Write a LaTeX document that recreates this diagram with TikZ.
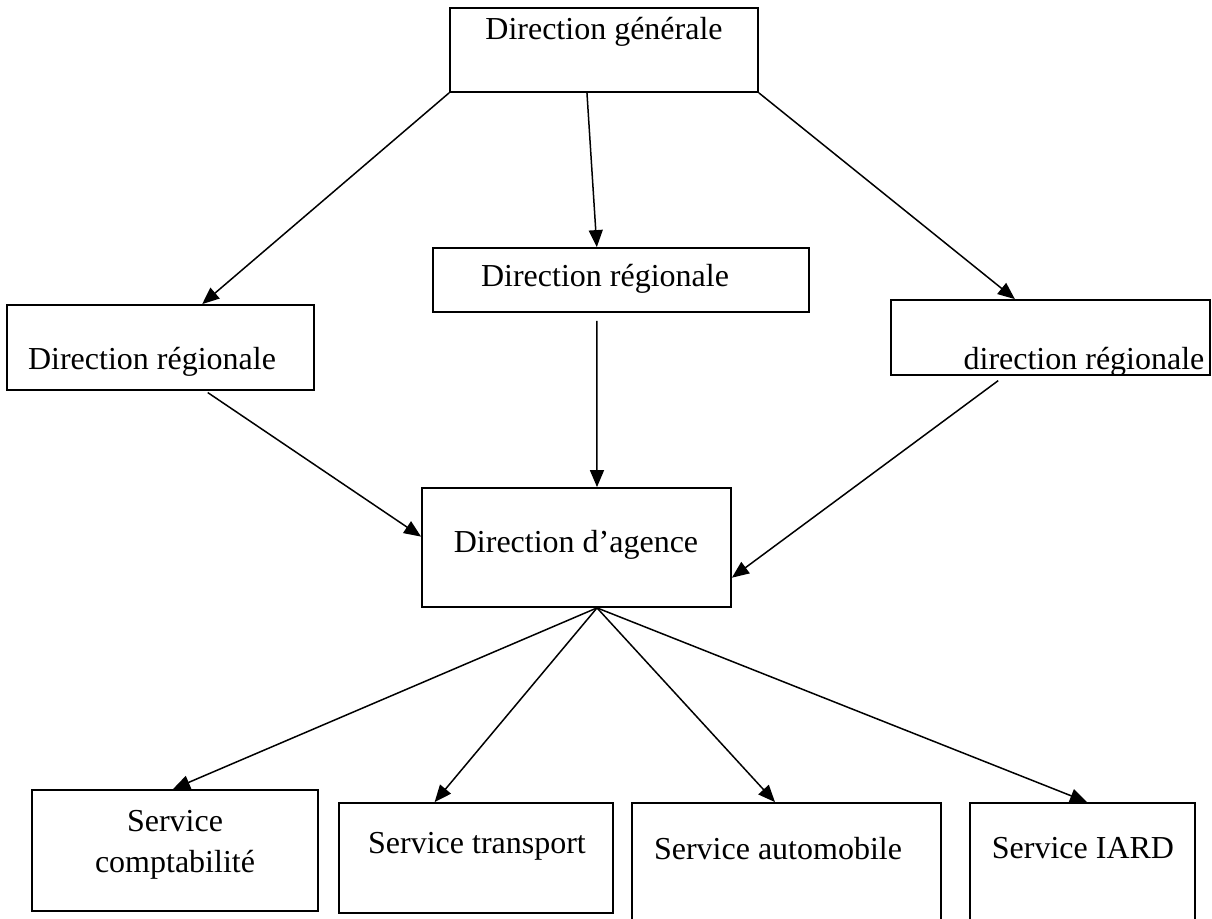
\documentclass[tikz,border=0pt]{standalone}
\usepackage{fontspec}
\setmainfont{Liberation Serif}
\usetikzlibrary{arrows.meta,fit,calc}
\begin{document}
\begin{tikzpicture}[x=0.5pt,y=-0.5pt]
	\tikzstyle{every node}+=[inner sep=0pt]
	\tikzstyle{box}=[draw, line width=0.9pt]
	\tikzstyle{lbl}=[anchor=base, align=center, font=\fontsize{16}{20.5}\selectfont]
	\tikzstyle{arr}=[-{Triangle[length=8.5pt,width=7pt]}, line width=0.75pt]
	\useasboundingbox (0,0) rectangle (1212,919);
	\node [box, fit={(450,8) (758,92)}] (dg) {};
	\node [lbl] (dgtxt) at (604,40) {Direction générale};
	\node [box, fit={(7,305) (314,390)}] (regl) {};
	\node [lbl] (regltxt) at (152,370) {Direction régionale};
	\node [box, fit={(433,248) (809,312)}] (regm) {};
	\node [lbl] (regmtxt) at (605,287) {Direction régionale};
	\node [box, fit={(891,300) (1210,375)}] (regr) {};
	\node [lbl] (regrtxt) at (1084,370) {direction régionale};
	\node [box, fit={(422,488) (731,607)}] (agence) {};
	\node [lbl] (agencetxt) at (576,553) {Direction d’agence};
	\node [box, fit={(32,790) (318,911)}] (compta) {};
	\node [lbl] (comptatxt) at (175,872) {Service\\comptabilité};
	\node [box, fit={(339,803) (613,913)}] (transp) {};
	\node [lbl] (transptxt) at (477,854) {Service transport};
	\node [box, fit={(632,803) (941,930)}] (auto) {};
	\node [lbl] (autotxt) at (778,860) {Service automobile};
	\node [box, fit={(970,803) (1195,930)}] (iard) {};
	\node [lbl] (iardtxt) at (1083,859) {Service IARD};
	\coordinate (hub) at ($(agence.south west)!0.566!(agence.south east)$);
	\draw [arr] (dg.south west) -- ($(regl.north west)!0.635!(regl.north east)$);
	\draw [arr] ($(dg.south west)!0.445!(dg.south east)$) -- ($(regm.north west)!0.436!(regm.north east)$);
	\draw [arr] (dg.south east) -- ($(regr.north west)!0.389!(regr.north east)$);
	\draw [arr, shorten <=4pt] ($(regm.south west)!0.436!(regm.south east)$) -- ($(agence.north west)!0.566!(agence.north east)$);
	\draw [arr, shorten <=1.5pt] ($(regl.south west)!0.645!(regl.south east)$) -- ($(agence.north west)!0.41!(agence.south west)$);
	\draw [arr, shorten <=4pt] ($(regr.south west)!0.357!(regr.south east)$) -- ($(agence.north east)!0.75!(agence.south east)$);
	\draw [arr] (hub) -- ($(compta.north west)!0.493!(compta.north east)$);
	\draw [arr] (hub) -- ($(transp.north west)!0.35!(transp.north east)$);
	\draw [arr] (hub) -- ($(auto.north west)!0.463!(auto.north east)$);
	\draw [arr] (hub) -- ($(iard.north west)!0.52!(iard.north east)$);
\end{tikzpicture}
\end{document}
